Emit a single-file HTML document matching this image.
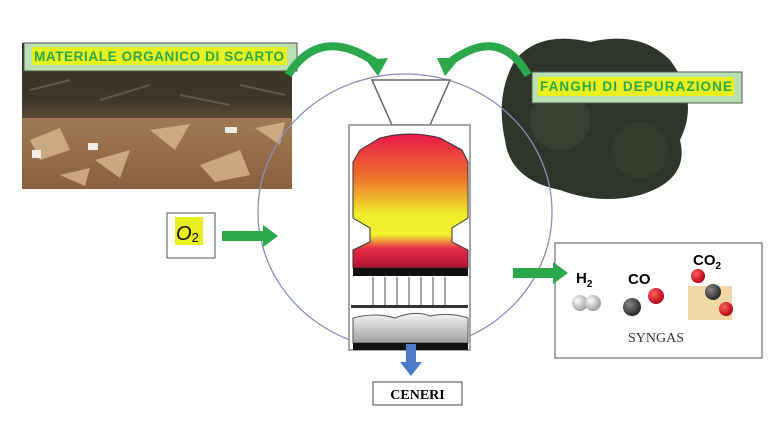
<!DOCTYPE html>
<html><head><meta charset="utf-8"><style>
body{margin:0;background:#fff;width:774px;height:423px;overflow:hidden}
svg{display:block}
text{font-family:"Liberation Sans",sans-serif}
</style></head><body>
<svg width="774" height="423" viewBox="0 0 774 423" xmlns="http://www.w3.org/2000/svg">
<defs>
<linearGradient id="fl" x1="0" y1="0" x2="0" y2="1">
<stop offset="0" stop-color="#e8194a"/><stop offset="0.35" stop-color="#f07a2a"/><stop offset="0.6" stop-color="#eef02a"/><stop offset="0.75" stop-color="#f2f230"/><stop offset="0.85" stop-color="#e8304a"/><stop offset="1" stop-color="#b01030"/></linearGradient>
<linearGradient id="ash" x1="0" y1="0" x2="0" y2="1"><stop offset="0" stop-color="#f4f4f4"/><stop offset="1" stop-color="#a0a0a0"/></linearGradient>
<linearGradient id="ph" x1="0" y1="0" x2="0" y2="1"><stop offset="0" stop-color="#2e2a22"/><stop offset="0.4" stop-color="#4a3e2c"/><stop offset="0.5" stop-color="#a07a55"/><stop offset="1" stop-color="#8a6040"/></linearGradient>
<radialGradient id="at" cx="0.35" cy="0.35" r="0.7"><stop offset="0" stop-color="#fff"/><stop offset="1" stop-color="#999"/></radialGradient>
<radialGradient id="ac" cx="0.35" cy="0.35" r="0.7"><stop offset="0" stop-color="#888"/><stop offset="1" stop-color="#222"/></radialGradient>
<radialGradient id="ao" cx="0.35" cy="0.35" r="0.7"><stop offset="0" stop-color="#ff6060"/><stop offset="1" stop-color="#b00010"/></radialGradient>
</defs>
<!-- left photo -->
<rect x="22" y="43" width="270" height="146" fill="url(#ph)"/>
<rect x="22" y="72" width="270" height="46" fill="#3a3428" opacity="0.7"/>
<g fill="#d8b890" opacity="0.8">
<polygon points="30,140 60,128 70,150 40,160"/><polygon points="95,160 130,150 120,178"/><polygon points="150,130 190,124 175,150"/>
<polygon points="200,165 240,150 250,175 215,182"/><polygon points="255,128 285,122 280,145"/><polygon points="60,175 90,168 85,186"/>
</g>
<g fill="#f0ece6"><rect x="88" y="143" width="10" height="7"/><rect x="225" y="127" width="12" height="6"/><rect x="32" y="150" width="9" height="8"/></g>
<g stroke="#6a6050" stroke-width="2" opacity="0.8"><line x1="30" y1="90" x2="70" y2="80"/><line x1="100" y1="100" x2="150" y2="85"/><line x1="180" y1="95" x2="230" y2="105"/><line x1="240" y1="85" x2="285" y2="95"/></g>
<rect x="24" y="43" width="273" height="28" fill="#b8e0b0" stroke="#555"/>
<rect x="32" y="47" width="255" height="18" fill="#e8f020"/>
<text x="34" y="61" font-size="13.5" font-weight="bold" fill="#2aa84a" textLength="250">MATERIALE ORGANICO DI SCARTO</text>
<!-- sludge -->
<path d="M515 60 Q540 30 590 42 Q640 30 670 60 Q700 100 680 140 Q690 180 640 195 Q600 205 560 190 Q510 180 505 140 Q495 95 515 60Z" fill="#2f352a"/>
<circle cx="560" cy="120" r="30" fill="#3a4030"/><circle cx="640" cy="150" r="28" fill="#363c2c"/>
<rect x="532" y="72" width="210" height="31" fill="#b8e0b0" stroke="#555"/>
<rect x="538" y="77" width="196" height="19" fill="#e8f020"/>
<text x="540" y="91" font-size="13.5" font-weight="bold" fill="#2aa84a" textLength="192">FANGHI DI DEPURAZIONE</text>
<!-- circle -->
<ellipse cx="405" cy="212" rx="147" ry="138" fill="none" stroke="#8890b8" stroke-width="1.3"/>
<!-- curved arrows -->
<path d="M288 75 Q320 25 375 62" fill="none" stroke="#2aa84a" stroke-width="8"/>
<polygon points="366,60 388,58 378,76" fill="#2aa84a"/>
<path d="M528 75 Q500 25 450 62" fill="none" stroke="#2aa84a" stroke-width="8"/>
<polygon points="437,58 460,58 445,76" fill="#2aa84a"/>
<!-- hopper -->
<polygon points="372,80 450,80 430,125 392,125" fill="#fff" stroke="#666" stroke-width="1.5"/>
<!-- reactor -->
<rect x="349" y="125" width="121" height="225" fill="#fff" stroke="#888" stroke-width="1.5"/>
<path d="M360 150 L380 138 Q410 130 440 138 L462 150 L468 162 L468 218 L452 228 L452 242 L468 250 L468 268 L353 268 L353 250 L370 242 L370 228 L353 218 L353 162Z" fill="url(#fl)" stroke="#333" stroke-width="1"/>
<rect x="353" y="268" width="115" height="8" fill="#111"/>
<g stroke="#666" stroke-width="1.2"><line x1="373" y1="277" x2="373" y2="305"/><line x1="385" y1="277" x2="385" y2="305"/><line x1="397" y1="277" x2="397" y2="305"/><line x1="409" y1="277" x2="409" y2="305"/><line x1="421" y1="277" x2="421" y2="305"/><line x1="433" y1="277" x2="433" y2="305"/><line x1="445" y1="277" x2="445" y2="305"/></g>
<rect x="351" y="305" width="117" height="3" fill="#333"/>
<path d="M353 318 Q375 312 395 318 Q415 310 430 316 Q450 312 468 318 L468 343 L353 343Z" fill="url(#ash)" stroke="#555"/>
<rect x="353" y="343" width="115" height="7" fill="#111"/>
<!-- blue arrow -->
<rect x="406" y="344" width="10" height="20" fill="#4a7ac8"/>
<polygon points="400,362 422,362 411,376" fill="#4a7ac8"/>
<rect x="373" y="382" width="89" height="23" fill="#fff" stroke="#444"/>
<text x="417.5" y="399" font-size="14" font-weight="bold" text-anchor="middle" style="font-family:'Liberation Serif',serif">CENERI</text>
<!-- O2 -->
<rect x="167" y="213" width="48" height="45" fill="#fff" stroke="#555"/>
<rect x="175" y="217" width="28" height="28" fill="#e8f020"/>
<text x="176" y="240" font-size="20" font-style="italic" fill="#111">O<tspan font-size="13" font-style="normal" dy="2">2</tspan></text>
<rect x="222" y="231" width="42" height="10" fill="#2aa84a"/><polygon points="263,225 278,236 263,247" fill="#2aa84a"/>
<!-- syngas -->
<rect x="555" y="243" width="207" height="115" fill="#fff" stroke="#555"/>
<rect x="513" y="268" width="42" height="10" fill="#2aa84a"/><polygon points="553,262 568,273 553,284" fill="#2aa84a"/>
<text x="576" y="283" font-size="15" font-weight="bold">H<tspan font-size="10" dy="4">2</tspan></text>
<circle cx="580" cy="303" r="8" fill="url(#at)"/><circle cx="593" cy="303" r="8" fill="url(#at)"/>
<text x="628" y="284" font-size="15" font-weight="bold">CO</text>
<circle cx="632" cy="307" r="9" fill="url(#ac)"/><circle cx="656" cy="296" r="8" fill="url(#ao)"/>
<text x="693" y="265" font-size="15" font-weight="bold">CO<tspan font-size="10" dy="4">2</tspan></text>
<rect x="688" y="286" width="44" height="34" fill="#f0d8a8"/>
<circle cx="698" cy="276" r="7" fill="url(#ao)"/><circle cx="713" cy="292" r="8" fill="url(#ac)"/><circle cx="726" cy="309" r="7" fill="url(#ao)"/>
<text x="656" y="342" font-size="14" text-anchor="middle" fill="#333" style="font-family:'Liberation Serif',serif">SYNGAS</text>
</svg>
</body></html>
